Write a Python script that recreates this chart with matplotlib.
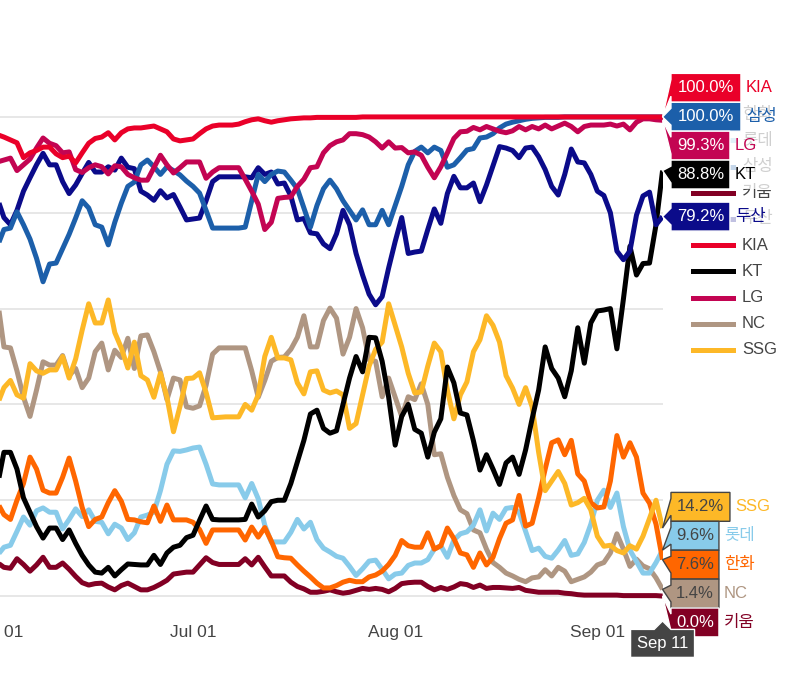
import matplotlib
matplotlib.use("Agg")
import matplotlib.pyplot as plt
import matplotlib.dates as mdates
from matplotlib.patches import Polygon, Rectangle
from matplotlib.lines import Line2D
import numpy as np
import pandas as pd

plt.rcParams["font.family"] = ["Liberation Sans", "Noto Sans CJK KR"]

W, H = 800, 698

dates = pd.date_range("2024-06-01", "2024-09-11", freq="D")

kia = [96.3, 95.8, 95.2, 94.6, 91.5, 92.5, 93.0, 93.7, 93.7, 92.3,
       91.5, 91.8, 90.4, 92.5, 94.5, 95.5, 95.8, 96.7, 95.2, 96.7,
       97.5, 97.7, 97.7, 97.9, 98.1, 97.5, 96.9, 95.4, 95.0, 95.2,
       95.4, 96.5, 97.5, 98.1, 98.3, 98.3, 98.3, 98.5, 99.0, 99.4,
       99.6, 99.2, 98.9, 99.2, 99.4, 99.6, 99.7, 99.8, 99.8, 99.9,
       99.9, 99.9, 99.9, 99.9, 99.9, 99.9, 100.0, 100.0, 100.0, 100.0,
       100.0, 100.0, 100.0, 100.0, 100.0, 100.0, 100.0, 100.0, 100.0, 100.0,
       100.0, 100.0, 100.0, 100.0, 100.0, 100.0, 100.0, 100.0, 100.0, 100.0,
       100.0, 100.0, 100.0, 100.0, 100.0, 100.0, 100.0, 100.0, 100.0, 100.0,
       100.0, 100.0, 100.0, 100.0, 100.0, 100.0, 100.0, 100.0, 100.0, 100.0,
       100.0, 100.0, 100.0]

lg = [90.6, 91.0, 91.4, 88.8, 90.0, 91.2, 93.5, 95.6, 94.5, 94.0,
      92.5, 92.7, 89.0, 88.4, 89.4, 90.0, 89.6, 88.1, 89.8, 89.6,
      88.0, 87.3, 86.8, 86.8, 89.4, 92.0, 90.0, 88.3, 89.4, 90.6,
      90.6, 90.6, 87.2, 88.5, 89.4, 89.4, 89.4, 89.4, 87.0, 84.5,
      81.8, 76.5, 78.0, 83.0, 83.2, 83.3, 85.5, 87.0, 89.4, 89.6,
      92.5, 94.0, 94.8, 95.2, 96.5, 96.5, 96.3, 95.8, 94.8, 93.5,
      94.8, 93.5, 93.6, 92.5, 92.7, 92.0, 89.5, 87.3, 89.6, 92.5,
      95.5, 96.9, 97.0, 97.8, 97.3, 98.0, 97.5, 97.0, 96.7, 97.1,
      98.0, 97.3, 98.0, 97.5, 98.3, 97.5, 98.1, 98.7, 98.0, 96.9,
      98.0, 98.3, 98.3, 98.3, 98.5, 98.1, 98.5, 97.3, 98.9, 99.6,
      99.6, 99.4, 99.3]

samsung = [73.0, 76.5, 76.8, 80.2, 77.5, 74.5, 70.5, 65.6, 69.3, 69.5,
           72.5, 75.5, 78.9, 82.5, 81.0, 77.5, 77.0, 73.3, 78.0, 82.0,
           85.5, 86.4, 90.0, 91.0, 89.6, 88.0, 89.6, 88.8, 87.9, 86.6,
           85.5, 84.1, 80.5, 76.8, 76.8, 76.8, 76.8, 76.8, 77.0, 82.5,
           88.0, 86.5, 88.0, 88.7, 88.5, 86.8, 85.0, 81.0, 77.0, 81.5,
           85.0, 86.8, 85.0, 82.5, 80.5, 78.5, 80.6, 77.5, 77.5, 80.5,
           77.5, 81.5, 85.5, 90.0, 92.8, 93.7, 92.5, 93.7, 93.0, 89.5,
           90.0, 91.5, 93.1, 93.4, 95.6, 95.8, 96.5, 97.7, 98.5, 98.9,
           99.2, 99.5, 99.7, 99.8, 99.9, 99.9, 99.9, 100.0, 100.0, 100.0,
           100.0, 100.0, 100.0, 100.0, 100.0, 100.0, 100.0, 100.0, 100.0, 100.0,
           100.0, 100.0, 100.0]

doosan = [83.0, 79.0, 77.5, 80.5, 84.5, 87.3, 90.0, 92.4, 90.0, 90.0,
          86.5, 84.0, 85.8, 88.2, 90.5, 88.5, 88.5, 89.6, 88.9, 91.4,
          89.5, 89.2, 84.5, 83.7, 82.6, 84.6, 83.1, 83.8, 81.2, 78.5,
          78.7, 78.9, 82.5, 86.5, 87.5, 87.5, 87.5, 87.5, 87.5, 87.3,
          89.4, 88.0, 88.5, 86.0, 86.2, 83.5, 78.5, 78.8, 75.8, 75.6,
          73.5, 72.5, 75.6, 80.5, 77.5, 71.5, 67.0, 63.0, 60.8, 62.5,
          68.5, 74.0, 79.0, 71.5, 71.8, 72.0, 76.5, 80.8, 77.8, 84.0,
          87.6, 85.2, 85.2, 86.2, 82.3, 85.8, 89.8, 93.8, 93.5, 93.0,
          91.5, 93.5, 93.7, 91.7, 89.0, 85.5, 83.7, 88.0, 93.3, 90.6,
          90.4, 88.0, 84.5, 83.6, 80.0, 72.0, 70.2, 72.0, 79.5, 83.5,
          84.3, 77.5, 79.2]

kt = [23.0, 30.0, 30.0, 26.5, 20.5, 17.5, 14.5, 12.1, 14.2, 14.2,
      11.8, 13.8, 11.0, 8.5, 6.5, 5.0, 4.8, 6.0, 4.2, 5.5,
      6.7, 6.6, 6.5, 6.5, 8.5, 6.6, 9.0, 10.2, 10.6, 12.2,
      12.7, 15.8, 18.8, 16.0, 15.9, 15.9, 15.9, 15.9, 16.0, 19.2,
      16.5, 17.8, 19.7, 20.0, 20.0, 23.5, 28.0, 32.5, 38.0, 38.8,
      35.0, 34.0, 34.5, 40.0, 45.5, 50.0, 46.8, 54.0, 53.9, 49.0,
      41.5, 31.5, 37.5, 40.0, 34.8, 34.0, 29.0, 34.2, 37.0, 47.8,
      44.5, 38.2, 37.8, 32.4, 26.3, 29.5, 26.5, 23.3, 27.8, 29.0,
      25.4, 30.5, 37.0, 43.0, 52.0, 47.5, 45.5, 41.6, 47.0, 56.0,
      48.6, 57.0, 59.5, 59.7, 60.0, 51.6, 62.0, 73.0, 67.0, 69.4,
      69.5, 77.5, 88.8]

nc = [62.0, 52.0, 51.8, 47.0, 41.5, 37.5, 43.0, 48.9, 48.2, 48.2,
      50.2, 46.0, 47.5, 43.5, 45.5, 51.0, 52.8, 47.2, 51.3, 49.8,
      53.8, 47.5, 54.3, 54.5, 51.0, 46.8, 41.0, 45.5, 45.1, 39.5,
      39.2, 39.7, 44.0, 50.5, 51.8, 51.8, 51.8, 51.8, 51.8, 47.0,
      41.5, 45.0, 49.0, 49.8, 49.9, 51.5, 54.0, 58.5, 52.0, 52.0,
      57.5, 60.1, 58.0, 50.5, 54.0, 60.0, 56.0, 49.3, 49.0, 41.6,
      45.5, 41.5, 37.5, 41.6, 41.0, 44.3, 40.0, 29.5, 29.7, 24.8,
      21.0, 18.0, 17.2, 13.8, 13.2, 9.8, 7.0, 6.0, 4.8, 4.2,
      3.5, 3.0, 3.8, 4.0, 5.5, 4.2, 6.0, 5.2, 3.0, 3.5,
      4.0, 5.0, 6.5, 7.0, 9.0, 13.0, 9.8, 6.2, 7.7, 6.3,
      5.7, 3.8, 1.4]

ssg = [40.0, 43.5, 45.0, 42.0, 41.3, 48.5, 47.0, 46.5, 47.2, 47.2,
       50.0, 45.5, 49.5, 55.5, 61.0, 57.0, 57.0, 61.8, 55.0, 51.8,
       47.6, 53.0, 46.0, 45.1, 41.5, 46.5, 41.5, 34.3, 39.6, 45.4,
       45.5, 46.6, 42.5, 37.2, 37.3, 37.4, 37.4, 37.4, 40.0, 38.8,
       42.0, 50.0, 54.0, 49.7, 49.7, 49.3, 44.5, 42.2, 46.8, 47.0,
       43.0, 42.4, 42.8, 42.0, 35.0, 36.0, 42.0, 48.0, 51.5, 53.0,
       61.0, 56.5, 52.0, 46.5, 42.4, 42.6, 48.0, 52.8, 51.0, 43.0,
       37.0, 42.0, 44.7, 51.0, 53.5, 58.5, 56.5, 53.0, 46.0, 43.4,
       40.0, 43.5, 39.5, 30.0, 22.0, 24.0, 26.0, 23.5, 19.0, 19.5,
       20.4, 18.0, 12.5, 10.4, 10.6, 9.5, 9.0, 10.5, 9.8, 12.5,
       16.2, 20.0, 14.2]

lotte = [8.5, 10.2, 10.6, 13.5, 16.5, 14.8, 17.8, 18.4, 17.5, 17.5,
         14.0, 16.0, 18.2, 16.6, 18.0, 15.6, 15.4, 13.0, 15.0, 14.2,
         11.8, 13.2, 16.5, 16.9, 17.5, 22.0, 27.5, 30.3, 30.2, 30.5,
         30.9, 31.1, 27.5, 23.4, 23.2, 23.2, 23.2, 23.2, 20.5, 23.5,
         20.3, 14.8, 11.3, 11.3, 11.3, 13.3, 16.0, 14.0, 15.4, 11.8,
         10.0, 9.2, 8.3, 7.9, 6.2, 4.3, 5.7, 7.3, 7.5, 5.6,
         3.6, 4.6, 4.8, 6.4, 6.9, 6.9, 7.6, 9.8, 10.5, 8.1,
         11.7, 13.0, 13.4, 14.8, 18.0, 13.6, 17.3, 16.0, 18.3, 18.5,
         17.5, 13.5, 9.5, 10.0, 8.3, 7.9, 9.6, 11.6, 8.5, 8.8,
         11.2, 15.0, 20.0, 22.1, 18.5, 21.5, 14.5, 9.6, 7.2, 4.8,
         4.8, 7.0, 9.6]

hanwha = [19.5, 17.0, 16.0, 20.0, 23.5, 29.0, 26.5, 22.1, 21.5, 21.5,
          24.8, 28.8, 24.0, 18.5, 14.5, 16.0, 16.5, 19.5, 22.0, 19.8,
          16.0, 15.9, 15.5, 15.3, 18.8, 15.6, 19.0, 15.9, 15.9, 15.9,
          15.4, 13.9, 11.0, 13.8, 13.8, 13.8, 13.8, 13.8, 11.7, 14.4,
          12.3, 14.3, 11.5, 8.2, 8.0, 7.9, 6.5, 5.2, 4.0, 2.7,
          1.7, 1.7, 2.2, 2.9, 3.3, 3.0, 3.0, 4.0, 4.4, 5.2,
          6.6, 8.5, 11.6, 10.5, 10.2, 10.2, 13.2, 9.8, 10.5, 14.2,
          12.0, 9.0, 8.6, 6.0, 9.0, 6.5, 8.1, 12.0, 15.2, 15.9,
          21.0, 14.6, 15.2, 20.5, 26.5, 32.0, 32.6, 29.5, 32.5, 25.5,
          24.0, 19.5, 18.4, 18.6, 24.0, 33.5, 29.0, 32.0, 29.0, 21.5,
          19.4, 15.0, 7.6]

kiwoom = [7.0, 6.0, 5.8, 7.8, 6.6, 5.2, 6.5, 8.1, 6.0, 6.0,
          6.9, 5.6, 4.1, 2.8, 2.3, 2.6, 2.7, 1.9, 1.3, 2.2,
          2.7, 2.0, 1.3, 1.3, 1.8, 2.5, 3.3, 4.6, 4.8, 5.0,
          5.0, 6.5, 8.0, 7.0, 6.6, 6.6, 6.6, 6.6, 7.8, 6.5,
          8.1, 6.1, 4.2, 4.2, 4.2, 2.9, 2.0, 1.5, 0.8, 0.8,
          1.0, 1.3, 0.9, 0.6, 0.8, 1.2, 1.6, 1.4, 1.6, 1.4,
          0.9, 1.6, 2.6, 2.8, 2.9, 2.9, 2.0, 1.3, 1.8, 1.4,
          1.9, 2.6, 2.4, 1.8, 2.3, 1.6, 1.8, 1.8, 1.7, 1.6,
          1.8, 1.2, 1.0, 0.8, 0.8, 0.8, 0.8, 0.6, 0.5, 0.3,
          0.2, 0.2, 0.2, 0.2, 0.2, 0.2, 0.1, 0.1, 0.1, 0.1,
          0.1, 0.1, 0.0]

series = {
    "KIA": kia, "삼성": samsung, "LG": lg, "KT": kt, "두산": doosan,
    "SSG": ssg, "롯데": lotte, "한화": hanwha, "NC": nc, "키움": kiwoom,
}
colors = {
    "KIA": "#EA0029", "삼성": "#1C5FAA", "LG": "#C30452", "KT": "#000000",
    "두산": "#0B0B8A", "SSG": "#FDB827", "롯데": "#88CBEA", "한화": "#FF6600",
    "NC": "#AF9682", "키움": "#820024",
}
draw_order = ["키움", "NC", "롯데", "한화", "SSG", "KT", "두산", "삼성", "LG", "KIA"]
legend_order = ["한화", "롯데", "삼성", "키움", "두산", "KIA", "KT", "LG", "NC", "SSG"]


def fx(px):
    return px / W


def fy(py):
    return 1 - py / H


def is_light(hexcol):
    r, g, b = (int(hexcol[i:i + 2], 16) for i in (1, 3, 5))
    return (r * 299 + g * 587 + b * 114) / 1000 > 128


def stack_labels(ys, step):
    # plotly-style: merge overlapping labels and centre each group on its mean
    order = sorted(range(len(ys)), key=lambda i: ys[i])
    groups = [[i] for i in order]

    def span(g):
        c = np.mean([ys[i] for i in g])
        return c - len(g) * step / 2, c + len(g) * step / 2

    merged = True
    while merged:
        merged = False
        for k in range(len(groups) - 1):
            if span(groups[k])[1] > span(groups[k + 1])[0]:
                groups[k] = groups[k] + groups.pop(k + 1)
                merged = True
                break
    centers = {}
    for g in groups:
        top = span(g)[0]
        for j, i in enumerate(g):
            centers[i] = top + step * (j + 0.5)
    return centers


fig = plt.figure(figsize=(W / 100, H / 100), dpi=100)
fig.patch.set_facecolor("white")

# plot area: x from -3.25px to 663.2px, y from 92px (top) to 621px (bottom)
ax = fig.add_axes([fx(-3.25), fy(621), (663.2 + 3.25) / W, (621 - 92) / H])
for name in draw_order:
    ax.plot(dates, series[name], color=colors[name], lw=3.6, solid_joinstyle="round",
            solid_capstyle="butt", zorder=3)

ax.set_xlim(dates[0] - pd.Timedelta(hours=2.4), dates[-1] + pd.Timedelta(hours=2.4))
ax.set_ylim(-5.2, 105.2)
ax.set_yticks([0, 20, 40, 60, 80, 100])
ax.yaxis.grid(True, color="#e3e3e3", lw=1.2)
ax.set_axisbelow(True)
ax.tick_params(axis="y", length=0, labelleft=False)
ax.set_xticks(pd.to_datetime(["2024-06-01", "2024-07-01", "2024-08-01", "2024-09-01"]))
ax.xaxis.set_major_formatter(mdates.DateFormatter("%b %d"))
ax.tick_params(axis="x", length=0, pad=3, labelsize=12.5, labelcolor="#444444")
for sp in ax.spines.values():
    sp.set_visible(False)
ax.set_facecolor("none")

# legend drawn by hand in pixel positions
for k, name in enumerate(legend_order):
    y = 114.2 + 26.2 * k
    fig.add_artist(Line2D([fx(693), fx(733)], [fy(y), fy(y)], transform=fig.transFigure,
                          color=colors[name], lw=3.6, zorder=5))
    fig.text(fx(742), fy(y), name, ha="left", va="center", fontsize=12,
             color="#444444", zorder=5)

# hover labels at the last date
names = list(series.keys())
xlast = mdates.date2num(dates[-1])
pts = [ax.transData.transform((xlast, series[n][-1])) for n in names]
px_list = [p[0] for p in pts]
py_list = [H - p[1] for p in pts]
step = 28.9
centers = stack_labels(py_list, step)
arrow = 8.4
for i, name in enumerate(names):
    val = series[name][-1]
    txt = f"{val:.1f}%"
    col = colors[name]
    fg = "#444444" if is_light(col) else "white"
    px, py, cy = px_list[i], py_list[i], centers[i]
    x0 = px + arrow
    w = 11 * len(txt) + 4
    h = step
    verts = [(px, py), (x0, cy + arrow), (x0, cy + h / 2), (x0 + w, cy + h / 2),
             (x0 + w, cy - h / 2), (x0, cy - h / 2), (x0, cy - arrow)]
    fig.add_artist(Rectangle((fx(x0 + w), fy(cy + h / 2)), fx(800 - x0 - w), h / H,
                             transform=fig.transFigure, facecolor="white", alpha=0.75,
                             edgecolor="none", zorder=8))
    fig.add_artist(Polygon([(fx(a), fy(b)) for a, b in verts], closed=True,
                           transform=fig.transFigure, facecolor=col, edgecolor=fg,
                           lw=1, zorder=9))
    fig.text(fx(x0 + w / 2), fy(cy), txt, ha="center", va="center", fontsize=12,
             color=fg, zorder=10)
    fig.text(fx(x0 + w + 5), fy(cy), name, ha="left", va="center", fontsize=12,
             color=col, zorder=10)

# x hover label
tx = px_list[0]
ty = H - ax.transAxes.transform((0, 0))[1]
bw, bh = 64, 28
xverts = [(tx, ty), (tx + arrow, ty + arrow), (tx + bw / 2, ty + arrow),
          (tx + bw / 2, ty + arrow + bh), (tx - bw / 2, ty + arrow + bh),
          (tx - bw / 2, ty + arrow), (tx - arrow, ty + arrow)]
fig.add_artist(Polygon([(fx(a), fy(b)) for a, b in xverts], closed=True,
                       transform=fig.transFigure, facecolor="#444444", edgecolor="white",
                       lw=1, zorder=11))
fig.text(fx(tx), fy(ty + arrow + bh / 2), dates[-1].strftime("%b %d").replace(" 0", " "),
         ha="center", va="center", fontsize=12, color="white", zorder=12)

fig.savefig("out.png", dpi=100)
